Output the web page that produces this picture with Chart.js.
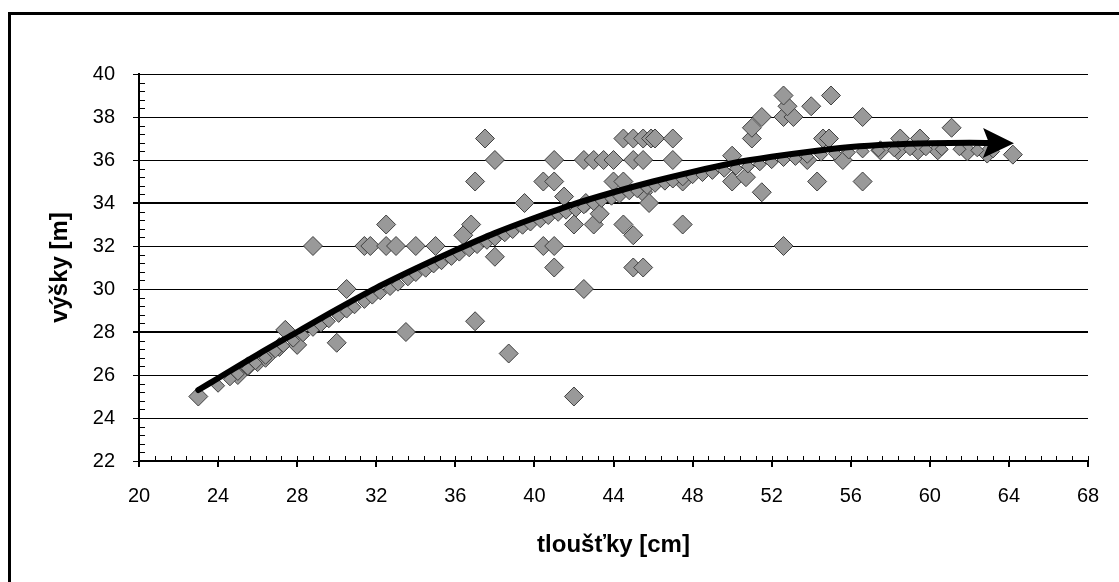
<!DOCTYPE html>
<html>
<head>
<meta charset="utf-8">
<script src="https://cdn.jsdelivr.net/npm/chart.js@4.4.1/dist/chart.umd.min.js"></script>
<style>
  html, body { margin: 0; padding: 0; background: #fff; overflow: hidden; }
  canvas { position: absolute; left: 0; top: 0; }
  #frame { position: absolute; left: 8px; top: 12px; width: 1300px; height: 800px;
           border-left: 3px solid #000; border-top: 3px solid #000; pointer-events: none; }
</style>
</head>
<body>
<canvas id="chart" width="1119" height="582"></canvas>
<div id="frame"></div>
<script>
// measured trees (big diamonds)
var measuredX = [23, 25, 25.5, 26, 26.4, 27.1, 27.4, 28, 28.8, 30, 30.5, 31.4, 31.7, 32.5, 32.5, 33, 33.5, 34, 35,
  36.4, 36.8, 37, 37.5, 38, 37, 38, 38.7, 39.5, 40.45, 41, 41, 40.45, 41, 41, 42, 42, 42.5, 42.5, 43, 43.5, 44,
  44.5, 45, 45.5, 45.9, 46.1, 47, 45, 45.5, 47, 43, 43.3, 44.5, 45, 45, 45.5, 44, 44.5, 45.5, 45.8, 47.5, 47.5,
  42.6, 41.5, 50, 50.7, 51.5, 50, 51, 51, 51.5, 52.6, 53.1, 52.8, 52.6, 54, 55, 56.6, 52.6, 53.8, 54.3, 54.6,
  54.9, 55.6, 56.6, 58.5, 59.5, 61.1, 57.5, 58.4, 59.4, 60.4, 61.9, 62.9, 64.2];
var measuredY = [25, 26, 26.4, 26.6, 26.8, 27.3, 28.1, 27.4, 32, 27.5, 30, 32, 32, 33, 32, 32, 28, 32, 32,
  32.5, 33, 35, 37, 36, 28.5, 31.5, 27, 34, 35, 35, 36, 32, 32, 31, 33, 25, 30, 36, 36, 36, 36,
  37, 37, 37, 37, 37, 37, 36, 36, 36, 33, 33.5, 33, 32.5, 31, 31, 35, 35, 34.5, 34, 35, 33,
  34, 34.3, 35, 35.2, 34.5, 36.2, 37, 37.5, 38, 38, 38, 38.5, 39, 38.5, 39, 38, 32, 36, 35, 37,
  37, 36, 35, 37, 37, 37.5, 36.45, 36.45, 36.45, 36.45, 36.4, 36.3, 36.25];

// dense run of small diamonds just under the trend
var bandX = [24.0, 24.6, 25.0, 25.5, 25.9, 26.4, 26.9, 27.3, 27.8, 28.3, 28.8, 29.2, 29.6, 30.1, 30.5, 30.9,
  31.4, 31.8, 32.2, 32.7, 33.1, 33.6, 34.0, 34.5, 34.9, 35.3, 35.8, 36.2, 36.7, 37.1, 37.6, 38.0, 38.5, 38.9,
  39.4, 39.8, 40.3, 40.7, 41.2, 41.6, 42.1, 42.5, 43.0, 43.4, 43.9, 44.3, 44.8, 45.2, 45.7, 46.1, 46.6, 47.0,
  47.5, 48.0, 48.5, 49.0, 49.6, 50.2, 50.8, 51.4, 52.0, 52.6, 53.2, 53.8, 54.5, 55.2, 55.9, 56.6, 57.4, 58.2,
  59.0, 59.8, 60.6, 61.5, 62.4, 63.2];
var bandY = [25.5, 25.8, 26.05, 26.3, 26.55, 26.8, 27.1, 27.35, 27.6, 27.85, 28.1, 28.3, 28.5, 28.75, 28.95, 29.15,
  29.4, 29.6, 29.8, 30.0, 30.2, 30.45, 30.65, 30.85, 31.05, 31.2, 31.4, 31.6, 31.8, 31.95, 32.15, 32.3, 32.5, 32.65,
  32.85, 33.0, 33.15, 33.3, 33.45, 33.55, 33.65, 33.8, 33.95, 34.1, 34.2, 34.3, 34.45, 34.55, 34.7, 34.8, 34.9, 35.0,
  35.1, 35.2, 35.3, 35.4, 35.5, 35.6, 35.7, 35.8, 35.9, 36.0, 36.05, 36.15, 36.25, 36.3, 36.35, 36.4, 36.45, 36.45,
  36.5, 36.5, 36.5, 36.5, 36.45, 36.4];

// trend curve (black arrow)
var trendX = [23, 24, 26, 28, 30, 32, 34, 36, 38, 40, 42, 44, 46, 48, 50, 52, 54, 56, 58, 60, 62, 63.8];
var trendY = [25.3, 25.85, 26.95, 28.0, 29.05, 30.05, 30.95, 31.8, 32.6, 33.3, 33.95, 34.5, 35.0, 35.45, 35.85,
  36.15, 36.4, 36.6, 36.72, 36.78, 36.8, 36.78];

var xTicks = [20, 24, 28, 32, 36, 40, 44, 48, 52, 56, 60, 64, 68];
var yTicks = [22, 24, 26, 28, 30, 32, 34, 36, 38, 40];

function toPoints(xs, ys) {
  return xs.map(function (v, i) { return { x: v, y: ys[i] }; });
}

var FONT = "'Liberation Sans', Arial, sans-serif";

const minorTicks = {
  id: 'minorTicks',
  afterDraw(chart) {
    const { ctx, chartArea } = chart;
    const x = chart.scales.x, y = chart.scales.y;
    ctx.save();
    ctx.strokeStyle = '#000';
    ctx.lineWidth = 1;
    ctx.beginPath();
    for (let v = 22; v <= 40.001; v += 0.4) {
      const py = Math.round(y.getPixelForValue(v)) + 0.5;
      ctx.moveTo(chartArea.left, py);
      ctx.lineTo(chartArea.left + 6, py);
    }
    for (let v = 20; v <= 68.001; v += 0.8) {
      const px = Math.round(x.getPixelForValue(v)) + 0.5;
      ctx.moveTo(px, chartArea.bottom);
      ctx.lineTo(px, chartArea.bottom - 5);
    }
    ctx.stroke();
    ctx.restore();
  }
};

const arrowHead = {
  id: 'arrowHead',
  afterDatasetsDraw(chart) {
    const pts = chart.getDatasetMeta(0).data;
    const a = pts[pts.length - 2], b = pts[pts.length - 1];
    const ang = Math.atan2(b.y - a.y, b.x - a.x);
    const ctx = chart.ctx;
    ctx.save();
    ctx.translate(b.x, b.y);
    ctx.rotate(ang);
    ctx.fillStyle = '#000';
    ctx.beginPath();
    ctx.moveTo(9, 0);
    ctx.lineTo(-22, -15);
    ctx.lineTo(-16, 0);
    ctx.lineTo(-22, 15);
    ctx.closePath();
    ctx.fill();
    ctx.restore();
  }
};

new Chart(document.getElementById('chart'), {
  type: 'scatter',
  data: {
    datasets: [{
      type: 'line',
      data: toPoints(trendX, trendY),
      borderColor: '#000',
      borderWidth: 6,
      borderCapStyle: 'round',
      pointRadius: 0,
      cubicInterpolationMode: 'monotone',
      order: 0
    }, {
      data: toPoints(bandX, bandY),
      pointStyle: 'rectRot',
      pointRadius: 6.5,
      backgroundColor: '#999999',
      borderColor: '#404040',
      borderWidth: 1,
      order: 1
    }, {
      data: toPoints(measuredX, measuredY),
      pointStyle: 'rectRot',
      pointRadius: 9.5,
      backgroundColor: '#999999',
      borderColor: '#404040',
      borderWidth: 1,
      order: 2
    }]
  },
  options: {
    responsive: false,
    animation: false,
    devicePixelRatio: 1,
    layout: { padding: { top: 74, right: 31, left: 0, bottom: 0 } },
    plugins: { legend: { display: false }, tooltip: { enabled: false } },
    scales: {
      x: {
        type: 'linear',
        min: 20, max: 68,
        afterBuildTicks: function (s) { s.ticks = xTicks.map(function (v) { return { value: v }; }); },
        afterFit: function (s) { s.height = 121; },
        border: { color: '#000', width: 2 },
        grid: { drawOnChartArea: false, color: '#000', tickLength: 6, lineWidth: 2 },
        ticks: { color: '#000', padding: 17, font: { family: FONT, size: 20 }, maxRotation: 0 },
        title: {
          display: true, text: 'tloušťky [cm]', color: '#000',
          font: { family: FONT, size: 24, weight: 'bold' },
          padding: { top: 0, bottom: 22 }
        }
      },
      y: {
        type: 'linear',
        min: 22, max: 40,
        afterBuildTicks: function (s) { s.ticks = yTicks.map(function (v) { return { value: v }; }); },
        afterFit: function (s) { s.width = 139; },
        border: { color: '#000', width: 2 },
        grid: {
          color: '#000', tickLength: 6,
          lineWidth: function (c) { return (c.tick && (c.tick.value === 34 || c.tick.value === 28)) ? 2 : 1; }
        },
        ticks: { color: '#000', padding: 18, font: { family: FONT, size: 20 } },
        title: {
          display: true, text: 'výšky [m]', color: '#000',
          font: { family: FONT, size: 24, weight: 'bold' },
          padding: { top: 46, bottom: 0 }
        }
      }
    }
  },
  plugins: [minorTicks, arrowHead]
});
</script>
</body>
</html>
